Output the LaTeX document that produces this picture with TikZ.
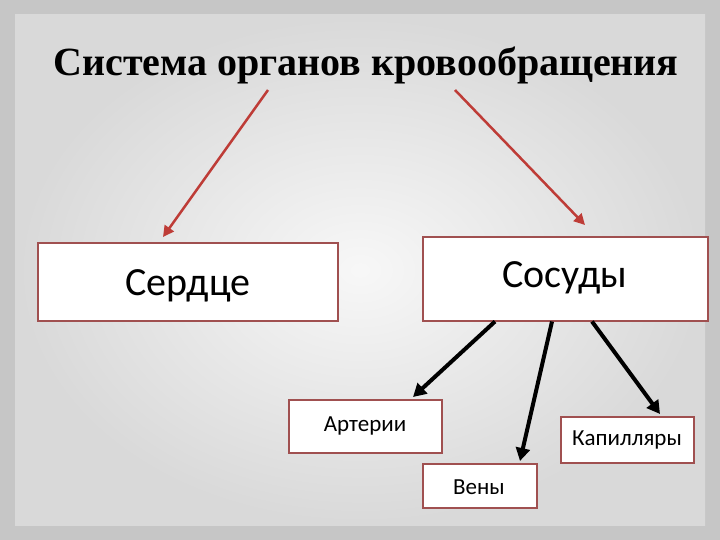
\documentclass[tikz,border=0pt]{standalone}
\usepackage{fontspec}
\setmainfont{Liberation Serif}
\newfontfamily\boxfont{Carlito}
\usetikzlibrary{arrows.meta}
\definecolor{bord}{RGB}{160,80,80}
\definecolor{redarr}{RGB}{190,60,55}
\begin{document}
\begin{tikzpicture}[x=1pt,y=-1pt,
  box/.style={draw=bord,line width=1.5pt,fill=white,inner sep=0pt},
  redline/.style={draw=redarr,line width=2.5pt,-{Triangle[length=11pt,width=11pt]}},
  blkline/.style={draw=black,line width=4pt,-{Triangle[length=13pt,width=14pt]}}]
\useasboundingbox (0,0) rectangle (720,540);
\fill[gray!45] (0,0) rectangle (720,540);
\shade[inner color=gray!6,outer color=gray!30] (15,15) rectangle (705,525);
\node[font=\bfseries\fontsize{40}{46}\selectfont] (title) at (366,65) {Система органов кровообращения};
\node[box,minimum width=300pt,minimum height=78pt,anchor=north west] (heart) at (37,242) {};
\node[font=\boxfont\fontsize{40}{46}\selectfont] (heartt) at (188,286) {Сердце};
\node[box,minimum width=285pt,minimum height=84pt,anchor=north west] (vess) at (422,236) {};
\node[font=\boxfont\fontsize{40}{46}\selectfont] (vesst) at (565,278) {Сосуды};
\node[box,minimum width=153pt,minimum height=53pt,anchor=north west] (art) at (288,399) {};
\node[font=\boxfont\fontsize{23}{27}\selectfont] (artt) at (365,426) {Артерии};
\node[box,minimum width=114pt,minimum height=44pt,anchor=north west] (ven) at (422,463) {};
\node[font=\boxfont\fontsize{23}{27}\selectfont] (vent) at (479,487) {Вены};
\node[box,minimum width=133pt,minimum height=46pt,anchor=north west] (cap) at (560,416) {};
\node[font=\boxfont\fontsize{23}{27}\selectfont] (capt) at (627,440) {Капилляры};
\coordinate (r1) at (268,90);
\coordinate (r2) at (455,90);
\draw[redline] (r1) -- (163,237);
\draw[redline] (r2) -- (585,225);
\draw[blkline] (vess.south west) ++(73,0) -- (413,397);
\draw[blkline] (vess.south west) ++(130,0) -- (520,461);
\draw[blkline] (vess.south west) ++(170,0) -- (660,414);
\end{tikzpicture}
\end{document}
